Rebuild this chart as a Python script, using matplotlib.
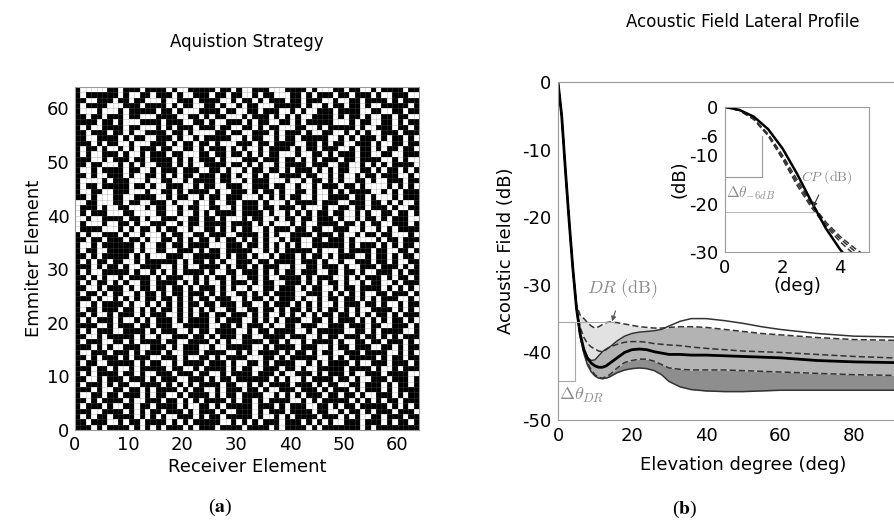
import numpy as np
import matplotlib
matplotlib.use("Agg")
import matplotlib.pyplot as plt

plt.rcParams["axes.unicode_minus"] = False

# --- panel (a): acquisition matrix, rows listed top (63) to bottom (0), '#' = black
matrix_rows = [
    "#.....##.###.####.#..#####.##.#..###...####.#...##.##..#.####.#",
    "#.######.#..##.###.#..###.##.##..#.##...##.#.###.##.###.#..###..",
    "##..###.##.##...#..###.####..#.##.#.###.##.###..#..##.####.#.###",
    "#.####...###.####.#.##..##.#..#.##...#####.#..#.##.##.#..#####.#",
    "#...#...#.#####.##.#...####.##..##.###..#.#..###.####..##..##.##",
    "##.##.###.##...####..##.#.##...#.###.#.#.#..####.#.##.#..##.##..",
    "####.##.#...####.###..##.#..###.#.##..##.#.#####...#.##..##.#.##",
    "#.#..####.##...#.#.###.###.##..##.#.##...##..#.#####.#..###.##.#",
    "##.###.##.#..####.##.#....##.##..###.#.###.#..##..#.#.#..###.###",
    "##..####.#.##..###.#..#.#####..#.##..#.##.#####..#.#.###.#.##.#.",
    "###.#.##..#...###.#.##.##.#...###.##.####..##.#.##..###.#..##.##",
    "#.##.#..#.#.###.##..##.#.###.#.#..#.####.#.##.###..#.##.#.##.##.",
    "#.#..###.#..#.###.##...##.##.##.#.#.##...#..##.#.###.##..##..###",
    "###..#.###.##.####.#.#.###.#...###.###.##.#.#.###.##.####..#.#..",
    "##.##...#.#.#..###.#.#..####.##.#.#..#.####.###..##..#.#.#.####.",
    "#..#.####.##..#.###.###..##.#..#.##.##.#.###.#.#.##..##.#.##.#.#",
    "##.#..###.#..##.#.#.##.###.##.#..#.#..####.##..#.#..#.##.###..#.",
    "#....#.###...#..##..#.####.##..#.###...#..#.##.#.#..##.#..###.##",
    "#.##.#####.##.#..###..#.##..###..###.##..#..#.###.##.#....#.#.#.",
    "#..##..###...#..##.#.####.#..###.#.##.#..##.#..#.#.####..#.#.###",
    "##.#...##..####..#.##..#.##.###...#.#.#.##..#..####.##.#...#.###",
    "..##...##.##..###.#...#..#..##.###.#...#.####.###..###.##.#.#..#",
    ".###.#..##...#.##..#.##..##..#.###.##.###.#...#..##.##.###.#..##",
    ".#.###...##....##..#..#.#.####.####.#..#.#.#.##.##..#.#..##.##.#",
    "..#..####.##.#..###..##.##.#...#.##..#.##.##.###.#..#.##.#.###..",
    ".#...#..##.#..###..#.##.####.####.#.#...#.#..####.##.#.##..###.#",
    ".####...#.#.##.#.##..#..##.#.#.##..#.###.##.##..###..#..#.#.####",
    "#.#..###.#..#...#.##..##.###..####.#.#..####.###.#..#.##.##...#.",
    "##.##.###.##.#..##.#.#.##.#.##.#.#.#..#.##..##.###.#....#.##.###",
    "#..#.######.#..##.##.####...###.##.#.#.#.#..######.#.###.#.#.##.",
    "#.##..#####.#..##..###.#.##.#####..#.#.#####.#...#.####.##..##.#",
    "##.#.#####.#.#...###..#####.#.##.#..#.###.#.##.#.###..#.##.#.##.",
    "#.#.##.##..#.######.#.##.#.#..###.##.####.###.#..#..###.##.#..##",
    "###.#.##.#..####..#.#..####.#.##.#.###..#..##.###.#..###.###.#.#",
    "#.#..#####.#..#.#.#.####.#..##.###.#.#.##.###..##.##.#..###.#.##",
    "##.#.#..#.####.#.###..#.#.##.#..##.#..####.#.###..#.#.###.#.##.#",
    "#.#.##.#.#..##.####.#.#.#..#.###.#.##..###.#.#.##.#..#.##..#.###",
    "##..#.###.#.##.##.##.#.###.#.#..#..##.###.#.##..#.##.####.#.#.#.",
    "#.##.#.##..#.##.#.##.###.#.#..##.#.#.####..###.#.#.#.#..##.###.#",
    "###.#..#.#.#.##.##.#.#.##.###..#.##.#.###.#..#.##.##.#.#.###..#.",
    "#..#.####.#..#.#.#.#.##.##.###.##..#.###.#.#.#..#.###.##.#..#.##",
    "#.##.###.##.#.#.##.#.#.#.#..##..##.##.#.##.#.#.##.#.#..####.#.#.",
    "##.#..#.###.#.###..#.#.##.##.###.#.#..#.#.#.#.##.##.#.#.##.#.###",
    "#.#.###.#..#.#.###.#.####.#.###..#.#.#.###..##.#.###.#.#.#.##.#.",
    "####..#.###.##.###..#####..##.#.###.#..##.###..###.###.##..###.#",
    "#.#.###..####.#.###..#.##.####..#.##.####..#.#####..##.#.####..#",
    "##..#.#####.#..#..###.##.#.###.##..####.###..#.##.###.##.#.#.###",
    "#.###..##.#.####.##..####.#.#..####.##.#..#.####.#..##.##.###.#.",
    "###.#.#..###..###.#.###..#..#####..#.####.###..#.##.###..##.#.##",
    "#..###.###.#.###.#..###.####..#.#.####.#.##.#.##..###.####..#.#.",
    "##.#.###.#.###..###.#..##.#.####...##.#.#####..#.#.#####.#.##.##",
    "#.##..#####.#.##..#.####.###.#..##.#.####..#.#.####.#..###.###.#",
    "###.##.#..#.#####.##..#.####.#.##..###.##.#..#####.####.#..#.###",
    "#.#.####.##.#..###.###.##..#.####.###.#..###.#.###.#..###.####..",
    "##..#.###.###.#.###..###.#.##.######.#.#..#.####.##.#..###.###.#",
    "#.###.#.##..####.#.#.#.####.##..#.#.####.###.#.##..##.###.#.##.#",
    "###.#..##.##.#.####.#.##..#.###.##.#..###.###.#.###.#.###.#.####",
    "#..##.##.###.#.##..#.####.#.##.####..#.#.#.###.##.##.#..###.#.##",
    "##.#.####.#..###.##.#.#.####.#.##.#.####..#.#.#####.#.#.#.##.###",
    "#.###.#..##.##.####.#..##.#.#####.###.#.###..##.#.##.#####.#.#.#",
    "###..####.#.#.##.###.#.###.#..###.#.###.####.##..#.##.#.###.###.",
    "#.#.##.####.#.#.#..###.#.##.#####.#..#.#.####.###.#.#..##.###.##",
    "##.###..#.##.####.#.#.#####..#.#.#.###.###.#.#.#..###.###.#.##.#",
    "###.#.####.#.#.#.###.#.###.####.####.#.####.#.#######.#.#########",
]

# --- panel (b): lateral profile curves (deg, dB)
deg = [0, 1, 2, 3, 4, 5, 6, 7, 8, 9, 10, 11, 12, 13, 14, 16, 18, 20, 22, 24,
       26, 28, 30, 33, 36, 40, 45, 50, 55, 60, 70, 80, 90, 100]
mean_db = [0, -5, -13, -20.5, -27.5, -33.5, -37.3, -39.6, -40.9, -41.6, -42.0,
           -42.2, -42.2, -42.0, -41.6, -40.8, -40.0, -39.6, -39.5, -39.6, -39.9,
           -40.1, -40.3, -40.3, -40.4, -40.4, -40.5, -40.6, -40.7, -40.8, -41.2,
           -41.4, -41.5, -41.6]
max_db = [0, -5, -13, -20.5, -27.5, -33.5, -37.3, -39.6, -40.8, -41.2, -41.1,
          -40.5, -39.9, -39.5, -39.2, -38.3, -37.6, -37.2, -37.0, -36.9, -36.8,
          -36.6, -36.1, -35.4, -35.0, -35.0, -35.3, -35.7, -36.2, -36.6, -37.2,
          -37.6, -37.7, -37.8]
min_db = [0, -5, -13, -20.5, -27.5, -33.6, -37.7, -40.2, -41.9, -42.9, -43.5,
          -43.8, -43.9, -43.8, -43.6, -43.0, -42.6, -42.4, -42.3, -42.4, -42.7,
          -43.3, -44.3, -45.1, -45.5, -45.7, -45.8, -45.8, -45.7, -45.6, -45.6,
          -45.6, -45.6, -45.6]
dash_a = [0, -5, -13, -20.5, -27.5, -33.0, -34.5, -35.0, -35.6, -36.1, -36.4,
          -36.2, -35.9, -35.6, -35.5, -35.6, -35.8, -36.0, -36.2, -36.3, -36.4,
          -36.4, -36.3, -36.2, -36.2, -36.3, -36.6, -36.9, -37.2, -37.4, -37.8,
          -38.1, -38.2, -38.3]
dash_b = [0, -5, -13, -20.5, -27.5, -33.3, -36.3, -37.8, -38.7, -39.2, -39.5,
          -39.8, -39.9, -39.6, -39.2, -38.8, -38.5, -38.4, -38.4, -38.5, -38.7,
          -38.8, -38.9, -39.0, -39.2, -39.4, -39.6, -39.8, -39.9, -40.0, -40.3,
          -40.6, -40.8, -40.9]
dash_c = [0, -5, -13, -20.5, -27.5, -33.6, -37.6, -40.0, -41.6, -42.6, -43.3,
          -43.7, -43.8, -43.6, -43.3, -42.3, -41.5, -41.2, -41.0, -41.0, -41.3,
          -41.8, -42.3, -42.5, -42.6, -42.6, -42.6, -42.7, -42.8, -42.9, -43.1,
          -43.3, -43.4, -43.5]

# inset: main lobe
inset_deg = [0, 0.5, 1, 1.5, 2, 2.5, 3, 3.5, 4, 4.5, 5]
inset_mean = [0, -0.6, -2.0, -4.6, -8.6, -13.8, -19.6, -25.1, -29.5, -33, -36]
inset_d1 = [0, -0.7, -2.6, -6.0, -10.8, -16.2, -20.8, -24.6, -27.9, -30.6, -33]
inset_d2 = [0, -0.7, -2.5, -5.8, -10.4, -15.6, -20.3, -24.2, -27.3, -29.8, -32]
inset_d3 = [0, -0.7, -2.4, -5.6, -10.0, -15.0, -19.9, -23.8, -26.8, -29.2, -31.3]

W, H = 894, 523
fig = plt.figure(figsize=(W / 100, H / 100), dpi=100)
spine_col = "#999999"
ann_col = "#8c8c8c"

# ---------------- (a)
grid = np.array([[1 if ch == "#" else 0 for ch in r[:64].ljust(64, "#")]
                 for r in matrix_rows[::-1]])
ax1 = fig.add_axes([75 / W, 1 - 430 / H, 344 / W, 343 / H])
ax1.pcolormesh(np.arange(65), np.arange(65), grid, cmap="gray_r", vmin=0, vmax=1,
               edgecolors="none", antialiased=False)
# thin cell grid: light on white cells, faint on black ones
ax1.vlines(range(65), 0, 64, colors=[(0.45, 0.45, 0.45, 0.35)], lw=0.5)
ax1.hlines(range(65), 0, 64, colors=[(0.45, 0.45, 0.45, 0.35)], lw=0.5)
ax1.set_xlim(0, 64)
ax1.set_ylim(0, 64)
ax1.set_xticks(range(0, 61, 10))
ax1.set_yticks(range(0, 61, 10))
ax1.tick_params(length=0, labelsize=13, pad=4)
ax1.set_xlabel("Receiver Element", fontsize=13, labelpad=3)
ax1.set_ylabel("Emmiter Element", fontsize=13, labelpad=3)
for s in ax1.spines.values():
    s.set_color(spine_col)
fig.text(247 / W, 1 - 42 / H, "Aquistion Strategy", ha="center", va="center", fontsize=12)

# ---------------- (b)
x = np.array(deg)
ax2 = fig.add_axes([558 / W, 1 - 420 / H, 370 / W, 338 / H])
top_med = np.minimum(dash_a, max_db)
ax2.fill_between(x, dash_c, min_db, color="#8e8e8e", lw=0)
ax2.fill_between(x, top_med, dash_c, color="#b3b3b3", lw=0)
ax2.fill_between(x, dash_a, max_db, where=np.array(dash_a) > np.array(max_db),
                 color="#e2e2e2", lw=0, interpolate=True)
dash = (0, (4, 2))
ax2.plot(x, max_db, color="#333333", lw=1.1)
ax2.plot(x, min_db, color="#333333", lw=1.1)
ax2.plot(x, dash_a, color="#333333", lw=1.1, ls=dash)
ax2.plot(x, dash_b, color="#333333", lw=1.1, ls=dash)
ax2.plot(x, dash_c, color="#333333", lw=1.1, ls=dash)
ax2.plot(x, mean_db, color="black", lw=2)

# DR annotation
ax2.plot([0, 15], [-35.5, -35.5], color="#aaaaaa", lw=0.8)
ax2.plot([4.6, 4.6], [-35.5, -44.2], color="#aaaaaa", lw=0.8)
ax2.plot([0, 4.6], [-44.2, -44.2], color="#aaaaaa", lw=0.8)
ax2.annotate(r"$DR\ \mathrm{(dB)}$", xy=(14.6, -35.4), xytext=(17.5, -30.6),
             ha="center", va="center", fontsize=13, color=ann_col, math_fontfamily="cm",
             arrowprops=dict(arrowstyle="-|>", color="#555555", lw=0.8,
                             mutation_scale=7, shrinkA=6, shrinkB=0))
ax2.text(6.3, -46.4, r"$\Delta\theta_{DR}$", ha="center", va="center", fontsize=13,
         color=ann_col, math_fontfamily="cm")

ax2.set_xlim(0, 100)
ax2.set_ylim(-50, 0)
ax2.set_xticks([0, 20, 40, 60, 80])
ax2.set_yticks([0, -10, -20, -30, -40, -50])
ax2.tick_params(length=0, labelsize=13, pad=5)
ax2.set_xlabel("Elevation degree (deg)", fontsize=13, labelpad=8)
ax2.set_ylabel("Acoustic Field (dB)", fontsize=13, labelpad=5)
for s in ax2.spines.values():
    s.set_color(spine_col)
fig.text(743 / W, 1 - 22 / H, "Acoustic Field Lateral Profile", ha="center",
         va="center", fontsize=12)

# ---------------- inset
ax3 = fig.add_axes([725 / W, 1 - 252 / H, 144 / W, 145 / H])
xi = np.array(inset_deg)
for yv in (inset_d1, inset_d2, inset_d3):
    ax3.plot(xi, yv, color="#333333", lw=1.1, ls=dash)
ax3.plot(xi, inset_mean, color="black", lw=1.8)
ax3.plot([1.28, 1.28], [-6, -14.5], color="#999999", lw=0.8)
ax3.plot([0, 1.28], [-14.5, -14.5], color="#999999", lw=0.8)
ax3.plot([0, 3.1], [-21.7, -21.7], color="#bbbbbb", lw=0.8)
ax3.text(0.05, -17.8, r"$\Delta\theta_{-6dB}$", ha="left", va="center", fontsize=11,
         color=ann_col, math_fontfamily="cm")
ax3.annotate(r"$CP\ \mathrm{(dB)}$", xy=(3.05, -20.8), xytext=(3.55, -14.5),
             ha="center", va="center", fontsize=10, color=ann_col, math_fontfamily="cm",
             arrowprops=dict(arrowstyle="-|>", color="#333333", lw=0.8,
                             mutation_scale=7, shrinkA=5, shrinkB=0))
ax3.set_xlim(0, 5)
ax3.set_ylim(-30, 0)
ax3.set_xticks([0, 2, 4])
ax3.set_yticks([0, -6, -10, -20, -30])
ax3.tick_params(length=0, labelsize=13, pad=5)
ax3.set_xlabel("(deg)", fontsize=13, labelpad=0)
ax3.set_ylabel("(dB)", fontsize=13, labelpad=0)
for s in ax3.spines.values():
    s.set_color(spine_col)

# panel letters
fig.text(220 / W, 1 - 507 / H, r"($\mathbf{a}$)", ha="center", va="center", fontsize=14,
         family="Liberation Serif", math_fontfamily="stix")
fig.text(685 / W, 1 - 509 / H, r"($\mathbf{b}$)", ha="center", va="center", fontsize=14,
         family="Liberation Serif", math_fontfamily="stix")

fig.savefig("out.png", dpi=100)
